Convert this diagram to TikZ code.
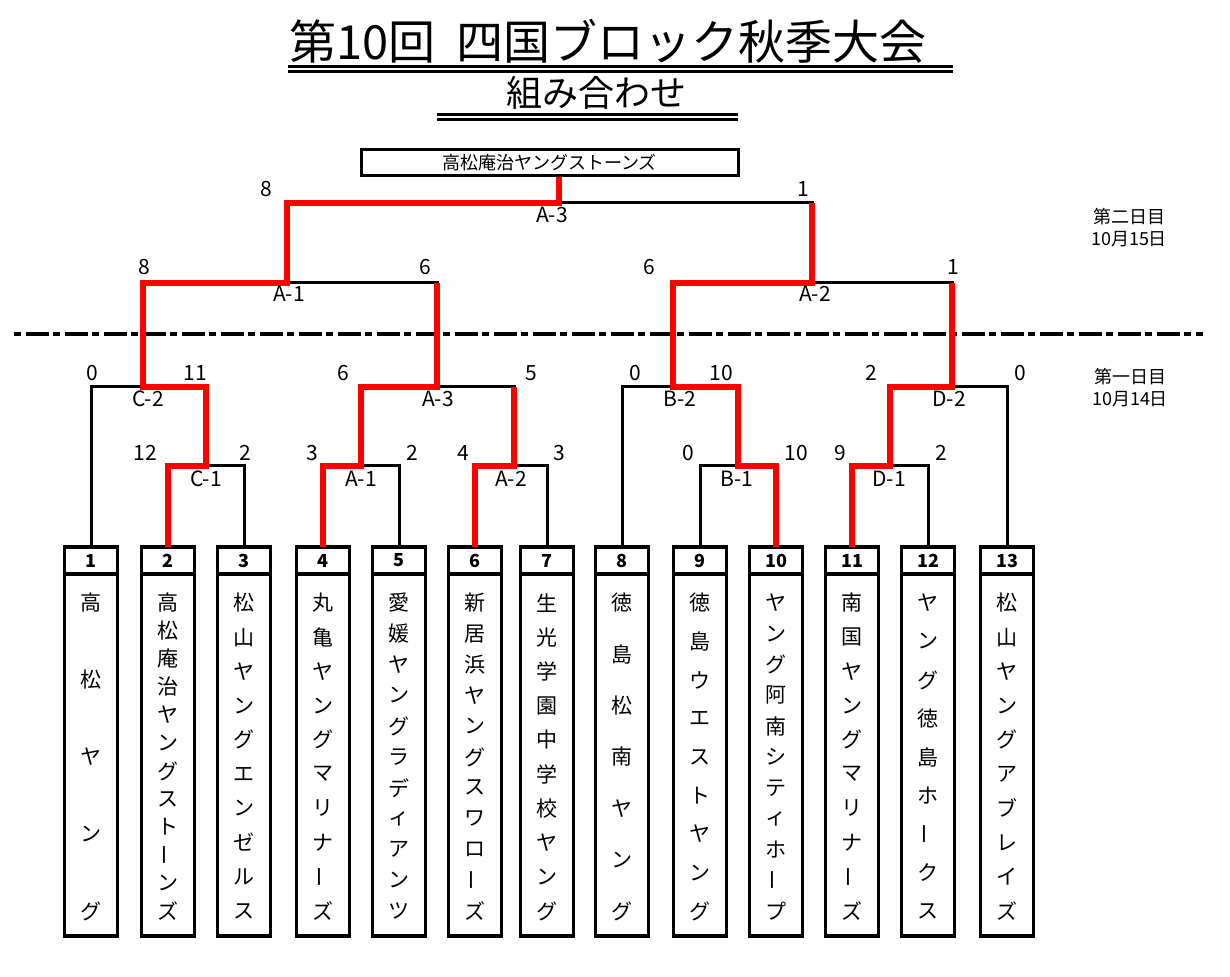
\documentclass[tikz,border=0pt]{standalone}
\usepackage{fontspec}
\setmainfont{Noto Sans CJK JP}
\usepackage{tikz}
\usetikzlibrary{positioning}
\definecolor{winred}{RGB}{255, 0, 0}
\newcommand{\chouon}{\rotatebox[origin=c]{90}{ー}}

\begin{document}
\begin{tikzpicture}[
    x=0.5pt, y=-0.5pt,
    title/.style={inner sep=0pt, font=\fontsize{23.5}{23.5}\selectfont},
    subtitle/.style={inner sep=0pt, font=\fontsize{18}{18}\selectfont},
    uline/.style={line width=1.2pt, double distance=1.3pt},
    champ/.style={rectangle, draw, line width=1.5pt, minimum width=188.5pt, minimum height=13pt, inner sep=0pt, font=\fontsize{9}{9}\selectfont},
    numcell/.style={rectangle, draw, line width=1.7pt, minimum width=26.5pt, minimum height=13.5pt, inner sep=0pt, outer sep=0pt, font=\bfseries\fontsize{9}{9}\selectfont},
    namecell/.style={rectangle, draw, line width=1.7pt, minimum width=26.5pt, minimum height=181pt, inner sep=0pt, outer sep=0pt},
    kana/.style={inner sep=0pt, font=\fontsize{10.5}{10.5}\selectfont},
    score/.style={inner sep=0pt, font=\fontsize{10.5}{10.5}\selectfont},
    match/.style={inner sep=0pt, font=\fontsize{10.5}{10.5}\selectfont},
    day/.style={align=center, inner sep=0pt, font=\fontsize{9}{11}\selectfont},
    lose/.style={line width=1.5pt},
    win/.style={line width=3pt, winred},
    dayline/.style={line width=2pt, dash pattern=on 3.5pt off 2.5pt on 11.5pt off 2pt}
]
    \useasboundingbox (0,0) rectangle (1230,977);

    % heading
    \node[title] (title) at (608,41) {第10回\hspace{0.45em}四国ブロック秋季大会};
    \draw[uline] (288,69) -- (953,69);
    \node[subtitle] (sub) at (596,93) {組み合わせ};
    \draw[uline] (437,117) -- (738,117);
    \node[champ] (champ) at (549.5,163) {高松庵治ヤングストーンズ};

    \node[day] (day2) at (1129,228) {第二日目\\10月15日};
    \node[day] (day1) at (1130,388) {第一日目\\10月14日};
    \draw[dayline] (14,334) -- (1203,334);

    % teams
    \foreach \x/\names [count=\i] in {
        91/{高,松,ヤ,ン,グ},
        168/{高,松,庵,治,ヤ,ン,グ,ス,ト,\chouon,ン,ズ},
        244/{松,山,ヤ,ン,グ,エ,ン,ゼ,ル,ス},
        323/{丸,亀,ヤ,ン,グ,マ,リ,ナ,\chouon,ズ},
        399/{愛,媛,ヤ,ン,グ,ラ,デ,ィ,ア,ン,ツ},
        475/{新,居,浜,ヤ,ン,グ,ス,ワ,ロ,\chouon,ズ},
        547/{生,光,学,園,中,学,校,ヤ,ン,グ},
        622/{徳,島,松,南,ヤ,ン,グ},
        700/{徳,島,ウ,エ,ス,ト,ヤ,ン,グ},
        776/{ヤ,ン,グ,阿,南,シ,テ,ィ,ホ,\chouon,プ},
        852/{南,国,ヤ,ン,グ,マ,リ,ナ,\chouon,ズ},
        928/{ヤ,ン,グ,徳,島,ホ,\chouon,ク,ス},
        1007/{松,山,ヤ,ン,グ,ア,ブ,レ,イ,ズ}} {
        \node[numcell] (t\i) at (\x,560.5) {\i};
        \node[namecell, below=0pt of t\i] (n\i) {};
        \foreach \c [count=\k] in \names {\xdef\nchars{\k}}
        \foreach \c [count=\k] in \names
            \node[kana] (n\i-\k) at (\x,{603+(\k-1)*308/(\nchars-1)}) {\c};
    }

    % match points
    \coordinate (C1) at (206,466);
    \coordinate (A1) at (361,466);
    \coordinate (A2) at (514,466);
    \coordinate (B1) at (738,466);
    \coordinate (D1) at (890,466);
    \coordinate (C2) at (143,387);
    \coordinate (A3) at (437,387);
    \coordinate (B2) at (673,387);
    \coordinate (D2) at (952,387);
    \coordinate (SA1) at (287,283);
    \coordinate (SA2) at (812,283);
    \coordinate (F) at (559,203);

    % brackets
    \draw[lose] (t2.north) |- (C1) -| (t3.north);
    \draw[lose] (t4.north) |- (A1) -| (t5.north);
    \draw[lose] (t6.north) |- (A2) -| (t7.north);
    \draw[lose] (t9.north) |- (B1) -| (t10.north);
    \draw[lose] (t11.north) |- (D1) -| (t12.north);
    \draw[lose] (t1.north) |- (C2) -| (C1);
    \draw[lose] (A1) |- (A3) -| (A2);
    \draw[lose] (t8.north) |- (B2) -| (B1);
    \draw[lose] (D1) |- (D2) -| (t13.north);
    \draw[lose] (C2) |- (SA1) -| (A3);
    \draw[lose] (B2) |- (SA2) -| (D2);
    \draw[lose] (SA1) |- (F) -| (SA2);

    % winners
    \draw[win] (t2.north) |- (C1) |- (C2) |- (SA1) |- (F) -- (F |- champ.south);
    \draw[win] (t4.north) |- (A1) |- (A3) -- (A3 |- SA1);
    \draw[win] (t6.north) |- (A2) -- (A2 |- A3);
    \draw[win] (t10.north) |- (B1) |- (B2) |- (SA2) -- (SA2 |- F);
    \draw[win] (t11.north) |- (D1) |- (D2) -- (D2 |- SA2);

    % scores
    \foreach \px/\py/\s [count=\j] in {266/189/8, 803/189/1,
        144/267/8, 425/267/6, 649/267/6, 953/267/1,
        92/373/0, 195/373/11, 343/373/6, 531/373/5,
        635/373/0, 721/373/10, 871/373/2, 1020/373/0,
        145/453/12, 245/453/2, 312/453/3, 412/453/2, 463/453/4, 559/453/3,
        688/453/0, 796/453/10, 840/453/9, 941/453/2}
        \node[score] (s\j) at (\px,\py) {\s};

    % match names
    \foreach \m/\mx/\my/\txt in {F/552/215/A-3, SA1/289/294/A-1, SA2/815/294/A-2,
        C2/148/399/C-2, A3/438/399/A-3, B2/680/399/B-2, D2/949/399/D-2,
        C1/206/479/C-1, A1/361/479/A-1, A2/511/479/A-2, B1/737/479/B-1, D1/889/479/D-1}
        \node[match] (l\m) at (\mx,\my) {\txt};
\end{tikzpicture}
\end{document}
